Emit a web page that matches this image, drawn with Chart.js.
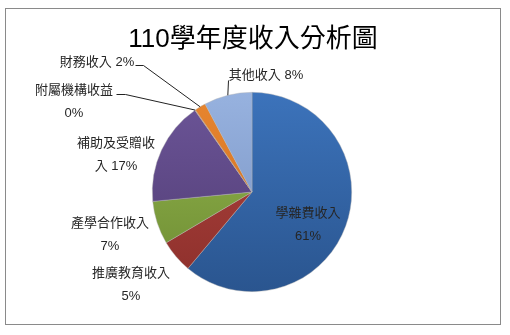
<!DOCTYPE html>
<html>
<head>
<meta charset="utf-8">
<script src="https://cdn.jsdelivr.net/npm/chart.js@4"></script>
<style>
    body { margin: 0; background: #fff; }
    #wrap { position: relative; width: 510px; height: 335px; }
    #frame { position: absolute; left: 5px; top: 8px; width: 494px; height: 315px; border: 1px solid #8a8a8a; }
    canvas { position: absolute; left: 0; top: 0; }
</style>
</head>
<body>
<div id="wrap">
    <div id="frame"></div>
    <canvas id="grafico" width="510" height="335"></canvas>
</div>
<script>
// datos
const titulo = '110學年度收入分析圖';
const categorias = ['學雜費收入', '推廣教育收入', '產學合作收入', '補助及受贈收入', '附屬機構收益', '財務收入', '其他收入'];
const valores = [61.1, 5.4, 7.0, 16.8, 0.1, 1.8, 7.8];
const porcentajes = ['61%', '5%', '7%', '17%', '0%', '2%', '8%'];

// colores (arriba, abajo) para el degradado
const colores = [
    ['#3c73bb', '#2a558f'],
    ['#b2453f', '#8c2f2b'],
    ['#95b84e', '#6c8a32'],
    ['#6c5598', '#4f3b72'],
    ['#e8862f', '#c96b1f'],
    ['#e8862f', '#c96b1f'],
    ['#97b2df', '#7690c0']
];

const fuente = 'Liberation Sans, Noto Sans CJK TC, sans-serif';

// posicion de las etiquetas: centro del texto, corte de linea, linea guia
const etiquetas = [
    { x: 308, y: 213, modo: 'dos' },
    { x: 131, y: 273, modo: 'dos' },
    { x: 110, y: 223, modo: 'dos' },
    { x: 116, y: 143, modo: 'corte', corte: 6 },
    { x: 74, y: 90, modo: 'dos', guia: [[125, 94], [116, 94]] },
    { x: 97, y: 62, modo: 'una', guia: [[143, 65], [135, 65]] },
    { x: 266, y: 75, modo: 'una', guia: [[228, 80]] }
];

const pluginEtiquetas = {
    id: 'etiquetas',
    afterDatasetsDraw(chart) {
        const ctx = chart.ctx;
        const arcos = chart.getDatasetMeta(0).data;
        ctx.save();
        ctx.fillStyle = '#000';
        ctx.textAlign = 'center';
        ctx.textBaseline = 'middle';
        ctx.font = '26px ' + fuente;
        ctx.fillText(titulo, 253, 40);

        ctx.font = '13px ' + fuente;
        ctx.fillStyle = '#262626';
        arcos.forEach((arco, i) => {
            const e = etiquetas[i];
            let lineas;
            if (e.modo === 'dos') lineas = [categorias[i], porcentajes[i]];
            else if (e.modo === 'corte') {
                const t = categorias[i] + ' ' + porcentajes[i];
                lineas = [t.slice(0, e.corte), t.slice(e.corte)];
            } else lineas = [categorias[i] + ' ' + porcentajes[i]];
            lineas.forEach((l, k) => ctx.fillText(l, e.x, e.y + k * 23));

            if (e.guia) {
                const p = arco.getProps(['x', 'y', 'startAngle', 'endAngle', 'outerRadius'], true);
                const a = (p.startAngle + p.endAngle) / 2;
                ctx.beginPath();
                ctx.strokeStyle = '#222';
                ctx.lineWidth = 1;
                ctx.moveTo(p.x + Math.cos(a) * p.outerRadius, p.y + Math.sin(a) * p.outerRadius);
                e.guia.forEach(q => ctx.lineTo(q[0] + 0.5, q[1] + 0.5));
                ctx.stroke();
            }
        });
        ctx.restore();
    }
};

new Chart(document.getElementById('grafico'), {
    type: 'pie',
    data: {
        labels: categorias,
        datasets: [{
            data: valores,
            backgroundColor: (c) => {
                const area = c.chart.chartArea;
                if (!area) return colores[c.dataIndex][0];
                const g = c.chart.ctx.createLinearGradient(0, area.top, 0, area.bottom);
                g.addColorStop(0, colores[c.dataIndex][0]);
                g.addColorStop(1, colores[c.dataIndex][1]);
                return g;
            },
            borderColor: 'rgba(180,180,180,0.7)',
            borderWidth: 0.6
        }]
    },
    options: {
        responsive: false,
        animation: false,
        layout: { padding: { left: 152, right: 158, top: 92, bottom: 43 } },
        plugins: {
            legend: { display: false },
            tooltip: { enabled: false },
            title: { display: false }
        }
    },
    plugins: [pluginEtiquetas]
});
</script>
</body>
</html>
